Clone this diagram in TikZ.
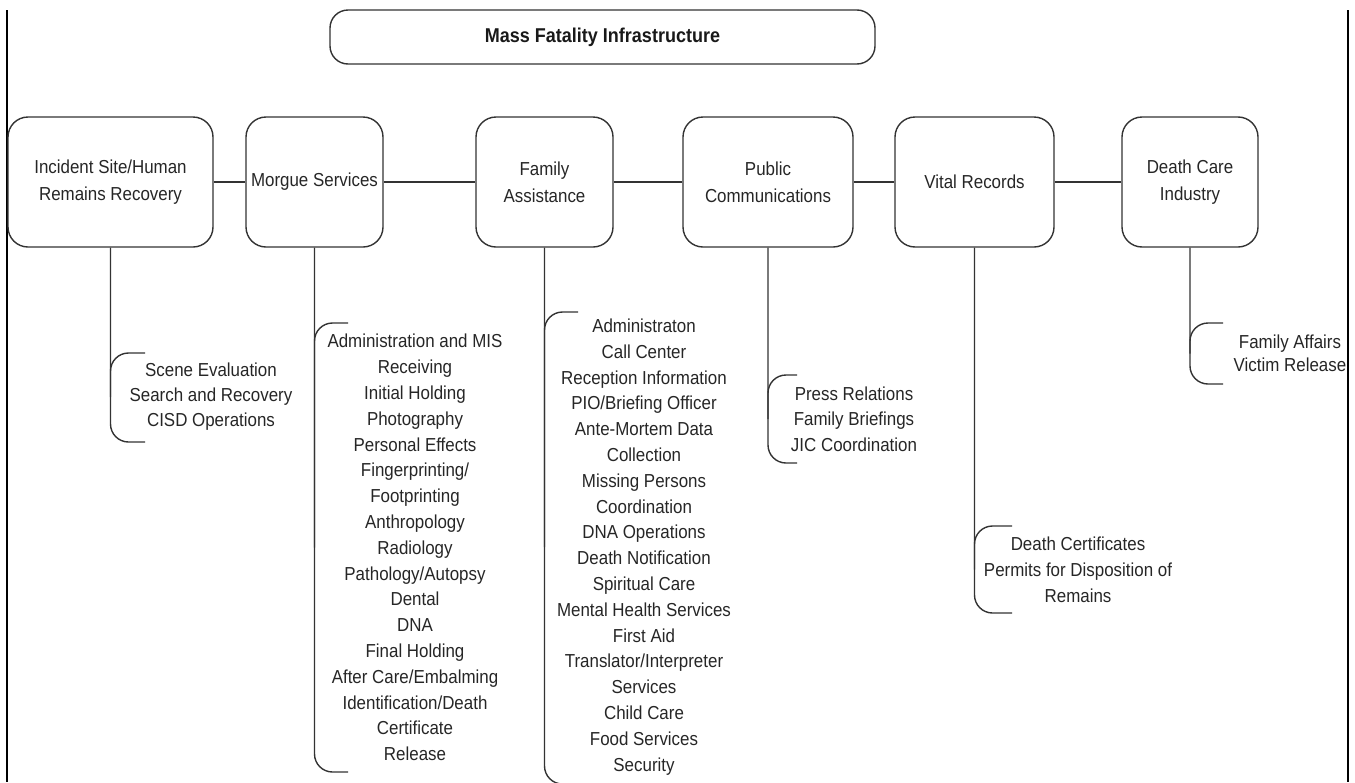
\documentclass[tikz,border=0pt]{standalone}
\usepackage{fontspec}
\setmainfont{Liberation Sans}[FakeStretch=0.9]
\begin{document}
\begin{tikzpicture}[x=1pt,y=-1pt,line join=round]
      \tikzstyle{unit}=[draw=black!80,line width=1.4pt,rounded corners=20pt,minimum height=130pt,align=center,text=black!85,font=\fontsize{18.8}{27}\selectfont]
      \tikzstyle{headline}=[draw=black!80,line width=1.4pt,rounded corners=18pt,minimum width=545pt,minimum height=54pt,text=black!90,font=\bfseries\fontsize{20}{22}\selectfont]
      \tikzstyle{tasks}=[align=center,inner sep=0pt,text=black!85,font=\fontsize{18.8}{25.8}\selectfont]
      \tikzstyle{link}=[draw=black!80,line width=1.4pt]
      \tikzstyle{bracket}=[draw=black!80,line width=1.4pt,rounded corners=18pt]
      \tikzstyle{frame}=[draw=black,line width=2pt]

      \useasboundingbox (0,0) rectangle (1355,782);
      \draw[frame] (7,10) -- (7,782);
      \draw[frame] (1348,10) -- (1348,782);

      \node[headline] (mfi) at (602.5,37) {Mass Fatality Infrastructure};

      \node[unit,minimum width=205pt] (site) at (110.5,182) {Incident Site/Human\\Remains Recovery};
      \node[unit,minimum width=137pt] (morgue) at (314.5,182) {Morgue Services};
      \node[unit,minimum width=137pt] (family) at (544.5,182) {Family\\Assistance};
      \node[unit,minimum width=170pt] (press) at (768,182) {Public\\Communications};
      \node[unit,minimum width=159pt] (vital) at (974.5,182) {Vital Records};
      \node[unit,minimum width=136pt] (care) at (1190,182) {Death Care\\Industry};

      \draw[link] (site) -- (morgue);
      \draw[link] (morgue) -- (family);
      \draw[link] (family) -- (press);
      \draw[link] (press) -- (vital);
      \draw[link] (vital) -- (care);

      \node[tasks,font=\fontsize{18.8}{25}\selectfont] (siteList) at (211,397)
        {Scene Evaluation\\Search and Recovery\\CISD Operations};
      \node[tasks] (morgueList) at (415,547.5)
        {Administration and MIS\\Receiving\\Initial Holding\\Photography\\Personal Effects\\
         Fingerprinting/\\Footprinting\\Anthropology\\Radiology\\Pathology/Autopsy\\Dental\\DNA\\
         Final Holding\\After Care/Embalming\\Identification/Death\\Certificate\\Release};
      \node[tasks] (familyList) at (644,547)
        {Administraton\\Call Center\\Reception Information\\PIO/Briefing Officer\\Ante-Mortem Data\\
         Collection\\Missing Persons\\Coordination\\DNA Operations\\Death Notification\\Spiritual Care\\
         Mental Health Services\\First Aid\\Translator/Interpreter\\Services\\Child Care\\Food Services\\Security};
      \node[tasks,font=\fontsize{18.8}{25.5}\selectfont] (pressList) at (854,419)
        {Press Relations\\Family Briefings\\JIC Coordination};
      \node[tasks,font=\fontsize{18.8}{26}\selectfont] (vitalList) at (1078,569.5)
        {Death Certificates\\Permits for Disposition of\\Remains};
      \node[tasks,font=\fontsize{18.8}{23}\selectfont] (careList) at (1290,353.5)
        {Family Affairs\\Victim Release};

      \coordinate (siteTop) at (145,353);
      \coordinate (siteBot) at (145,442);
      \coordinate (morgueTop) at (348,323);
      \coordinate (morgueBot) at (348,772);
      \coordinate (familyTop) at (578,312);
      \coordinate (familyBot) at (578,784);
      \coordinate (pressTop) at (797,375);
      \coordinate (pressBot) at (797,463);
      \coordinate (vitalTop) at (1012,526);
      \coordinate (vitalBot) at (1012,613);
      \coordinate (careTop) at (1223,323);
      \coordinate (careBot) at (1223,384);

      \draw[bracket] (site.south) |- (siteBot);
      \draw[bracket] (siteTop) -| (site.south |- siteList);
      \draw[bracket] (morgue.south) |- (morgueBot);
      \draw[bracket] (morgueTop) -| (morgue.south |- morgueList);
      \draw[bracket] (family.south) |- (familyBot);
      \draw[bracket] (familyTop) -| (family.south |- familyList);
      \draw[bracket] (press.south) |- (pressBot);
      \draw[bracket] (pressTop) -| (press.south |- pressList);
      \draw[bracket] (vital.south) |- (vitalBot);
      \draw[bracket] (vitalTop) -| (vital.south |- vitalList);
      \draw[bracket] (care.south) |- (careBot);
      \draw[bracket] (careTop) -| (care.south |- careList);
\end{tikzpicture}
\end{document}
